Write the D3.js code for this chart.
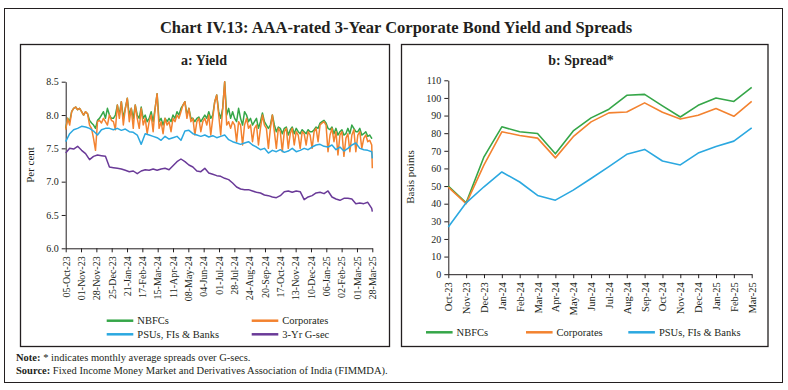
<!DOCTYPE html>
<html><head><meta charset="utf-8">
<script src="https://cdn.jsdelivr.net/npm/d3@7/dist/d3.min.js"></script>
<style>
body{margin:0;background:#fff}
svg{display:block}
text{font-family:"Liberation Serif","Times New Roman",serif;fill:#231f20}
</style>
</head><body>
<svg id="c" width="788" height="390"></svg>
<script>
// ---------- DATA ----------
const chartTitle = "Chart IV.13: AAA-rated 3-Year Corporate Bond Yield and Spreads";
const yieldStart = "05-Oct-23";
const yieldEnd = "28-Mar-25";
const yieldTicks = ["05-Oct-23","01-Nov-23","28-Nov-23","25-Dec-23","21-Jan-24","17-Feb-24","15-Mar-24","11-Apr-24","08-May-24","04-Jun-24","01-Jul-24","28-Jul-24","24-Aug-24","20-Sep-24","17-Oct-24","13-Nov-24","10-Dec-24","06-Jan-25","02-Feb-25","01-Mar-25","28-Mar-25"];
const yieldYTicks = [6.0,6.5,7.0,7.5,8.0,8.5];

// NBFCs and Corporates: read every ~3.5 days, last value on 28-Mar-25
const nbfcYield = [
7.8,7.95,7.9,8.05,8.1,8.12,8.08,8.1,
8.05,8.0,8.05,8.02,7.92,7.88,7.85,7.8,
7.92,7.95,8.0,8.05,7.95,8.1,8.0,7.95,
7.95,8.0,8.15,8.0,8.2,7.95,8.1,8.25,
8.0,8.1,7.95,8.15,8.0,7.95,8.12,
7.95,8.0,7.9,7.95,8.05,7.9,8.1,8.32,
7.9,7.95,7.85,7.95,7.9,7.95,7.9,8.0,
7.95,8.05,8.0,8.1,8.15,8.2,8.0,8.1,
7.95,7.95,7.9,7.95,7.97,7.9,7.95,
8.0,7.95,8.05,7.95,8.0,8.2,8.3,8.05,
7.95,8.1,8.5,8.0,8.1,7.95,8.05,7.95,
7.9,8.1,7.95,7.85,8.05,8.0,7.9,
7.95,7.85,7.9,7.95,7.8,7.9,8.03,7.9,
7.85,7.8,7.85,8.0,7.85,7.75,7.82,7.8,
7.72,7.8,7.82,7.7,7.78,7.82,7.72,
7.8,7.75,7.72,7.78,7.75,7.72,7.78,7.75,
7.75,7.78,7.82,7.8,7.88,7.9,7.92,7.88,
7.8,7.78,7.82,7.72,7.8,7.7,7.75,
7.78,7.7,7.72,7.8,7.72,7.85,7.8,7.75,
7.75,7.8,7.7,7.72,7.75,7.68,7.7,7.65,
7.65];
const corpYield = [
7.78,7.95,7.85,8.05,8.1,8.12,8.08,8.1,
8.05,8.0,8.05,8.02,7.85,7.8,7.65,7.47,
7.9,7.92,7.88,7.95,7.9,7.85,8.0,7.92,
7.9,7.78,8.15,7.95,8.2,7.85,8.1,8.25,
7.9,8.1,7.8,8.15,7.95,7.8,8.1,
7.85,7.95,7.72,7.9,8.0,7.75,8.1,8.32,
7.8,7.9,7.72,7.95,7.85,7.9,7.75,7.95,
7.9,8.0,7.95,8.05,8.15,8.2,7.95,8.1,
7.9,7.95,7.7,7.9,7.95,7.75,7.9,
7.95,7.85,8.0,7.7,7.95,8.2,8.3,8.0,
7.7,8.1,8.5,7.85,7.9,7.8,7.9,7.85,
7.6,7.9,7.85,7.55,7.85,7.95,7.8,
7.85,7.6,7.8,7.85,7.55,7.8,8.0,7.85,
7.8,7.5,7.8,8.0,7.75,7.5,7.8,7.75,
7.45,7.75,7.8,7.5,7.72,7.8,7.55,
7.75,7.7,7.5,7.75,7.72,7.55,7.75,7.7,
7.5,7.75,7.8,7.6,7.85,7.88,7.9,7.85,
7.45,7.7,7.8,7.6,7.75,7.4,7.7,
7.75,7.38,7.65,7.72,7.45,7.7,7.78,7.45,
7.7,7.75,7.5,7.65,7.7,7.6,7.62,7.55,
7.2];
// PSUs and 3-Yr G-sec: read weekly, last value on 28-Mar-25
const psuYield = [
7.6,7.72,7.78,7.8,7.83,7.82,7.8,7.76,7.7,7.78,
7.8,7.8,7.78,7.8,7.77,7.79,7.75,7.74,7.7,7.56,
7.72,7.7,7.68,7.66,7.62,7.68,7.64,7.66,7.68,7.62,
7.76,7.77,7.72,7.7,7.68,7.7,7.67,7.69,7.66,7.68,
7.7,7.63,7.6,7.58,7.56,7.58,7.6,7.55,7.52,7.48,
7.5,7.43,7.47,7.45,7.48,7.44,7.46,7.5,7.45,7.47,
7.5,7.48,7.52,7.55,7.56,7.53,7.52,7.55,7.48,7.52,
7.46,7.5,7.55,7.58,7.5,7.48,7.47,7.45,
7.35];
const gsecYield = [
7.43,7.5,7.49,7.53,7.47,7.42,7.33,7.38,7.4,7.39,
7.38,7.22,7.21,7.2,7.19,7.17,7.15,7.16,7.12,7.16,
7.18,7.17,7.19,7.17,7.19,7.2,7.18,7.24,7.3,7.34,
7.3,7.25,7.22,7.16,7.15,7.2,7.13,7.11,7.09,7.08,
7.05,7.03,6.98,6.92,6.89,6.88,6.88,6.86,6.84,6.83,
6.8,6.79,6.77,6.76,6.79,6.85,6.86,6.84,6.86,6.85,
6.73,6.77,6.79,6.83,6.84,6.82,6.86,6.77,6.74,6.72,
6.75,6.75,6.74,6.67,6.68,6.67,6.69,6.6,
6.55];

const months = ["Oct-23","Nov-23","Dec-23","Jan-24","Feb-24","Mar-24","Apr-24","May-24","Jun-24","Jul-24","Aug-24","Sep-24","Oct-24","Nov-24","Dec-24","Jan-25","Feb-25","Mar-25"];
const spreadYTicks = [0,10,20,30,40,50,60,70,80,90,100,110];
const nbfcSpread = [50,40.5,66.6,83.6,80.8,79.8,68.3,81.3,88.7,93.6,101.5,102,95.5,89.2,95.8,100,98,106];
const corpSpread = [49.4,40,62,80.8,78.7,77.2,66,78,86.4,91.5,92,97.2,91.9,88,90.2,94,89.6,98];
const psuSpread = [26.8,40.5,49.6,58,52.3,44.7,42,47.7,54.3,61,68,70.8,64.2,62,68.7,72.5,75.5,83];

const seriesNames = ["NBFCs","Corporates","PSUs, FIs & Banks","3-Yr G-sec"];
const colors = ["#35a648","#f3822f","#2ba8e0","#6a3a98"];

// ---------- DRAW ----------
const svg = d3.select("#c");
const parse = d3.timeParse("%d-%b-%y");
const fmt = d3.timeFormat("%d-%b-%y");
const t0 = parse(yieldStart), t1 = parse(yieldEnd);
const DAY = 864e5;
function datesFor(vals, stepDays){
  return vals.map((v,i)=> i===vals.length-1 ? t1 : new Date(t0.getTime()+i*stepDays*DAY));
}

// frames
svg.append("rect").attr("x",4.5).attr("y",8.5).attr("width",778).attr("height",374)
  .attr("fill","none").attr("stroke","#231f20").attr("stroke-width",1);
svg.append("rect").attr("x",20.5).attr("y",44.5).attr("width",369).attr("height",302)
  .attr("fill","none").attr("stroke","#231f20").attr("stroke-width",1.3);
svg.append("rect").attr("x",401.5).attr("y",44.5).attr("width",366.5).attr("height",302)
  .attr("fill","none").attr("stroke","#231f20").attr("stroke-width",1.3);

svg.append("text").attr("x",396).attr("y",33).attr("text-anchor","middle")
  .style("font-size","16.5px").style("font-weight","bold").text(chartTitle);

svg.append("text").attr("x",204).attr("y",65).attr("text-anchor","middle")
  .style("font-size","14px").style("font-weight","bold").text("a: Yield");
svg.append("text").attr("x",581).attr("y",65).attr("text-anchor","middle")
  .style("font-size","14px").style("font-weight","bold").text("b: Spread*");

// ----- Left: Yield -----
const xL = d3.scaleTime().domain([t0,t1]).range([65.7,372.3]);
const yL = d3.scaleLinear().domain([6.0,8.5]).range([248.3,81.7]);

const gxL = svg.append("g").attr("transform","translate(0,248.3)")
  .call(d3.axisBottom(xL).tickValues(yieldTicks.map(parse)).tickFormat(fmt).tickSize(4).tickSizeOuter(0));
gxL.selectAll("text").attr("transform","rotate(-90)").attr("x",-8).attr("y",0).attr("dy","0.33em")
  .attr("text-anchor","end").style("font-size","10px");
const gyL = svg.append("g").attr("transform","translate(65.7,0)")
  .call(d3.axisLeft(yL).tickValues(yieldYTicks).tickFormat(d3.format(".1f")).tickSize(4).tickSizeOuter(0));
gyL.selectAll("text").style("font-size","10px").attr("x",-7);
[gxL,gyL].forEach(g=>{g.selectAll("path,line").attr("stroke","#231f20");g.selectAll("text").attr("fill","#231f20").style("font-family","Liberation Serif")});

svg.append("text").attr("transform","translate(34,165) rotate(-90)").attr("text-anchor","middle")
  .style("font-size","11px").text("Per cent");

const yieldSeries = [
  {vals:nbfcYield, step:3.5, c:colors[0]},
  {vals:corpYield, step:3.5, c:colors[1]},
  {vals:psuYield, step:7, c:colors[2]},
  {vals:gsecYield, step:7, c:colors[3]}
];
const lineL = d3.line().x(d=>xL(d[0])).y(d=>yL(d[1]));
yieldSeries.forEach(s=>{
  const ds = datesFor(s.vals, s.step);
  svg.append("path").datum(s.vals.map((v,i)=>[ds[i],v]))
    .attr("d",lineL).attr("fill","none").attr("stroke",s.c).attr("stroke-width",1.5)
    .attr("stroke-linejoin","round");
});

// left legend
const legL = [
  {n:seriesNames[0],c:colors[0],x:106.7,y:320.7},
  {n:seriesNames[1],c:colors[1],x:251.7,y:320.7},
  {n:seriesNames[2],c:colors[2],x:106.7,y:334.3},
  {n:seriesNames[3],c:colors[3],x:251.7,y:334.3}
];
legL.forEach(l=>{
  svg.append("line").attr("x1",l.x).attr("x2",l.x+26.6).attr("y1",l.y).attr("y2",l.y)
    .attr("stroke",l.c).attr("stroke-width",2.5);
  svg.append("text").attr("x",l.x+30.6).attr("y",l.y).attr("dy","0.35em").style("font-size","10.5px").text(l.n);
});

// ----- Right: Spread -----
const xR = d3.scalePoint().domain(months).range([448.3,751.7]);
const yR = d3.scaleLinear().domain([0,110]).range([274.2,80.3]);
const gxR = svg.append("g").attr("transform","translate(0,274.2)")
  .call(d3.axisBottom(xR).tickSize(4).tickSizeOuter(0));
gxR.selectAll("text").attr("transform","rotate(-90)").attr("x",-8).attr("y",0).attr("dy","0.33em")
  .attr("text-anchor","end").style("font-size","10.5px");
const gyR = svg.append("g").attr("transform","translate(448.3,0)")
  .call(d3.axisLeft(yR).tickValues(spreadYTicks).tickSize(4).tickSizeOuter(0));
gyR.selectAll("text").style("font-size","10px").attr("x",-7);
[gxR,gyR].forEach(g=>{g.selectAll("path,line").attr("stroke","#231f20");g.selectAll("text").attr("fill","#231f20").style("font-family","Liberation Serif")});

svg.append("text").attr("transform","translate(414,177) rotate(-90)").attr("text-anchor","middle")
  .style("font-size","11px").text("Basis points");

const lineR = d3.line().x((d,i)=>xR(months[i])).y(d=>yR(d));
[[nbfcSpread,colors[0]],[corpSpread,colors[1]],[psuSpread,colors[2]]].forEach(([v,c])=>{
  svg.append("path").datum(v).attr("d",lineR).attr("fill","none").attr("stroke",c)
    .attr("stroke-width",1.6).attr("stroke-linejoin","round");
});

const legR = [
  {n:seriesNames[0],c:colors[0],x:426},
  {n:seriesNames[1],c:colors[1],x:526},
  {n:seriesNames[2],c:colors[2],x:628.3}
];
legR.forEach(l=>{
  svg.append("line").attr("x1",l.x).attr("x2",l.x+26.6).attr("y1",332.3).attr("y2",332.3)
    .attr("stroke",l.c).attr("stroke-width",2.5);
  svg.append("text").attr("x",l.x+30.6).attr("y",332.3).attr("dy","0.35em").style("font-size","10.5px").text(l.n);
});

// notes
const note = svg.append("text").attr("x",16).attr("y",361).style("font-size","10.5px");
note.append("tspan").style("font-weight","bold").text("Note:");
note.append("tspan").text(" * indicates monthly average spreads over G-secs.");
const src = svg.append("text").attr("x",16).attr("y",374).style("font-size","10.5px");
src.append("tspan").style("font-weight","bold").text("Source:");
src.append("tspan").text(" Fixed Income Money Market and Derivatives Association of India (FIMMDA).");
</script>
</body></html>
